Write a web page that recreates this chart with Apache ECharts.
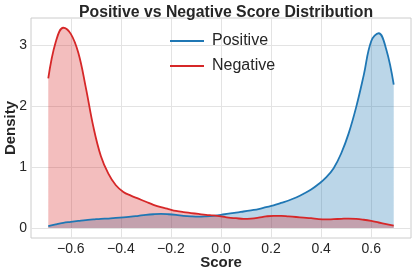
<!DOCTYPE html>
<html><head><meta charset="utf-8">
<script src="https://cdn.jsdelivr.net/npm/echarts@6/dist/echarts.min.js"></script>
<style>html,body{margin:0;padding:0;background:#fff}#c{width:415px;height:276px}</style>
</head><body><div id="c"></div>
<script>
const scores = [-0.69,-0.66,-0.63,-0.60,-0.57,-0.54,-0.51,-0.48,-0.45,-0.42,-0.39,-0.36,-0.33,-0.30,-0.27,-0.24,-0.21,-0.18,-0.15,-0.12,-0.09,-0.06,-0.03,0.00,0.03,0.06,0.09,0.12,0.15,0.18,0.21,0.24,0.27,0.30,0.33,0.36,0.39,0.42,0.45,0.48,0.51,0.54,0.57,0.60,0.63,0.66,0.69];
const positiveDensity = [0.03,0.06,0.085,0.10,0.115,0.13,0.14,0.15,0.155,0.165,0.175,0.185,0.20,0.215,0.225,0.23,0.225,0.215,0.20,0.19,0.185,0.19,0.20,0.215,0.235,0.25,0.27,0.29,0.31,0.34,0.37,0.41,0.45,0.50,0.56,0.63,0.72,0.83,0.98,1.22,1.55,1.98,2.50,3.06,3.19,2.93,2.35];
const negativeDensity = [2.45,3.05,3.28,3.18,2.87,2.30,1.66,1.18,0.89,0.70,0.59,0.53,0.48,0.43,0.38,0.34,0.31,0.28,0.26,0.245,0.23,0.215,0.205,0.19,0.17,0.16,0.15,0.155,0.17,0.19,0.20,0.20,0.19,0.18,0.17,0.16,0.145,0.14,0.145,0.15,0.155,0.15,0.135,0.115,0.09,0.065,0.04];
const xTicks = [-0.6,-0.4,-0.2,0.0,0.2,0.4,0.6];
const yTicks = [0,1,2,3];
const seriesNames = ['Positive','Negative'];

const blue = '#1f77b4', red = '#d62728';
const font = 'Liberation Sans, Arial, sans-serif';
const txt = '#262626';
const chart = echarts.init(document.getElementById('c'));
const mk = (ys) => scores.map((x,i)=>[x,ys[i]]);
chart.setOption({
  animation:false,
  title:{text:'Positive vs Negative Score Distribution',left:221,top:0,textAlign:'center',
    textStyle:{fontFamily:font,fontWeight:'bold',fontSize:15.8,color:txt}},
  legend:{top:28,left:165,orient:'vertical',itemWidth:34,itemHeight:2,itemGap:9,icon:'rect',
    data:seriesNames,textStyle:{fontFamily:font,fontSize:16,color:txt,padding:[0,0,0,3]}},
  grid:{left:31,right:4,top:18,bottom:38,show:true,borderColor:'#cccccc',borderWidth:1,backgroundColor:'#fff',
    containLabel:false,outerBoundsMode:'none'},
  xAxis:{type:'value',min:-0.759,max:0.759,name:'Score',nameLocation:'middle',nameGap:17,nameMoveOverlap:false,
    nameTextStyle:{fontFamily:font,fontWeight:'bold',fontSize:15,color:txt},
    axisLine:{show:false},axisTick:{show:false,customValues:xTicks},
    axisLabel:{customValues:xTicks,fontFamily:font,fontSize:14,color:txt,margin:4,
      formatter:v=>v.toFixed(1).replace('-','\u2212')},
    splitLine:{show:true,lineStyle:{color:'#e3e3e3',width:1}}},
  yAxis:{type:'value',min:-0.164,max:3.44,name:'Density',nameLocation:'middle',nameGap:13,nameMoveOverlap:false,
    nameTextStyle:{fontFamily:font,fontWeight:'bold',fontSize:15,color:txt},
    axisLine:{show:false},axisTick:{show:false,customValues:yTicks},
    axisLabel:{customValues:yTicks,fontFamily:font,fontSize:14,color:txt,margin:4},
    splitLine:{show:true,lineStyle:{color:'#e3e3e3',width:1}}},
  series:[
    {name:seriesNames[0],type:'line',data:mk(positiveDensity),smooth:0.4,showSymbol:false,
      lineStyle:{color:blue,width:1.8},itemStyle:{color:blue},areaStyle:{color:blue,opacity:0.3}},
    {name:seriesNames[1],type:'line',data:mk(negativeDensity),smooth:0.4,showSymbol:false,
      lineStyle:{color:red,width:1.8},itemStyle:{color:red},areaStyle:{color:red,opacity:0.3}}
  ]
});
</script></body></html>
